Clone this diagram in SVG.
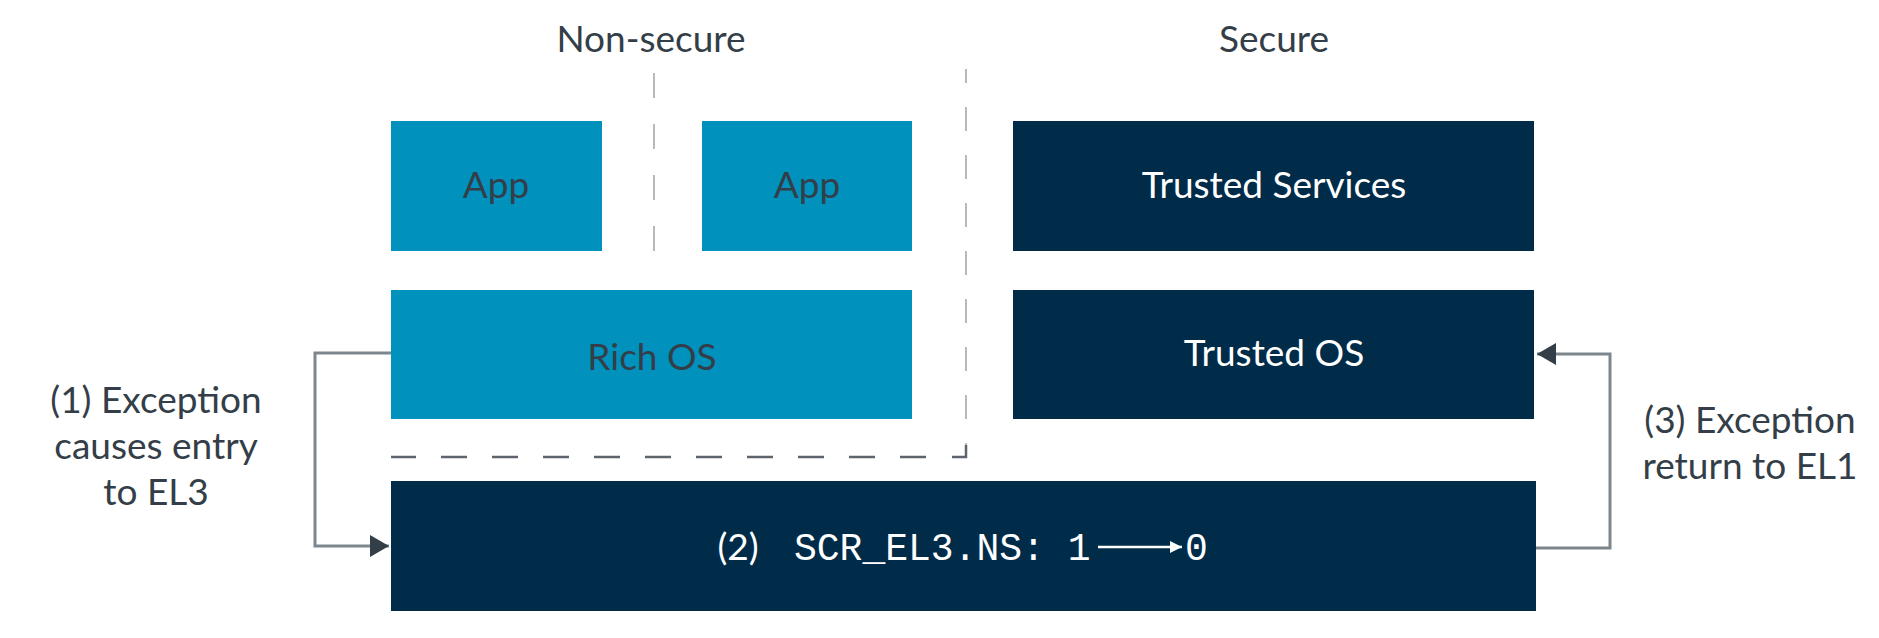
<svg xmlns="http://www.w3.org/2000/svg" width="1879" height="638" viewBox="0 0 1879 638">
  <style>
    .lbl { font-family: Lato, "Noto Sans", "Liberation Sans", sans-serif; font-size: 37px; fill: #333e48; text-anchor: middle; }
    .light { fill: #0091bd; }
    .dark { fill: #002b49; }
    .wt { fill: #ffffff; }
    .conn { fill: none; stroke: #7d868c; stroke-width: 3; }
    .mono { font-family: "Liberation Mono", "Courier New", monospace; font-size: 38px; fill: #ffffff; }
  </style>
  <defs>
    <marker id="ah" markerUnits="userSpaceOnUse" markerWidth="20" markerHeight="22" refX="19" refY="11" orient="auto">
      <path d="M0 0 L19 11 L0 22 z" fill="#333e48"/>
    </marker>
    <marker id="wah" markerUnits="userSpaceOnUse" markerWidth="12" markerHeight="12" refX="12" refY="6" orient="auto">
      <path d="M0 0 L12 6 L0 12 z" fill="#ffffff"/>
    </marker>
  </defs>
  <rect width="1879" height="638" fill="#ffffff"/>

  <g id="headers">
    <text class="lbl" x="651" y="52">Non-secure</text>
    <text class="lbl" x="1274" y="52">Secure</text>
  </g>

  <g id="boundaries">
    <line x1="654" y1="73" x2="654" y2="251" stroke="#b5babe" stroke-width="2" stroke-dasharray="25 26"/>
    <line x1="966" y1="69" x2="966" y2="457" stroke="#b5babe" stroke-width="2" stroke-dasharray="24 24" stroke-dashoffset="10"/>
    <path d="M966 445 V457 H952" fill="none" stroke="#5d646b" stroke-width="2.5"/>
    <line x1="926" y1="457" x2="391" y2="457" stroke="#5d646b" stroke-width="2.5" stroke-dasharray="26 25"/>
  </g>

  <g id="app1">
    <rect class="light" x="391" y="121" width="211" height="130"/>
    <text class="lbl" x="496" y="198">App</text>
  </g>
  <g id="app2">
    <rect class="light" x="702" y="121" width="210" height="130"/>
    <text class="lbl" x="807" y="198">App</text>
  </g>
  <g id="trusted-services">
    <rect class="dark" x="1013" y="121" width="521" height="130"/>
    <text class="lbl wt" x="1274" y="198">Trusted Services</text>
  </g>
  <g id="rich-os">
    <rect class="light" x="391" y="290" width="521" height="129"/>
    <text class="lbl" x="652" y="370">Rich OS</text>
  </g>
  <g id="trusted-os">
    <rect class="dark" x="1013" y="290" width="521" height="129"/>
    <text class="lbl wt" x="1274" y="366">Trusted OS</text>
  </g>
  <g id="el3">
    <rect class="dark" x="391" y="481" width="1145" height="130"/>
    <text class="lbl wt" x="738" y="560" font-size="34">(2)</text>
    <text class="mono" x="794" y="560">SCR_EL3.NS: 1</text>
    <line x1="1098" y1="547" x2="1182" y2="547" stroke="#ffffff" stroke-width="2.5" marker-end="url(#wah)"/>
    <text class="mono" x="1185" y="560">0</text>
  </g>

  <g id="connectors">
    <path class="conn" d="M391 353 H315 V546 H389" marker-end="url(#ah)"/>
    <path class="conn" d="M1536 548 H1610 V354 H1537" marker-end="url(#ah)"/>
  </g>

  <g id="labels">
    <text class="lbl" x="156" y="413">(1) Exception</text>
    <text class="lbl" x="156" y="459">causes entry</text>
    <text class="lbl" x="156" y="505">to EL3</text>
    <text class="lbl" x="1750" y="433">(3) Exception</text>
    <text class="lbl" x="1750" y="479">return to EL1</text>
  </g>
</svg>
